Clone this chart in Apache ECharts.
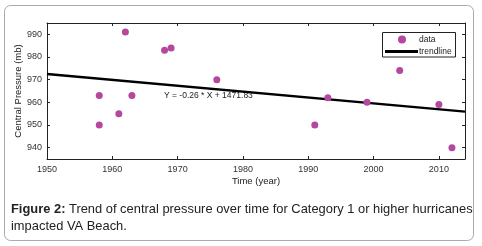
<!DOCTYPE html>
<html>
<head>
<meta charset="utf-8">
<script src="https://cdn.jsdelivr.net/npm/echarts@6/dist/echarts.min.js"></script>
<style>
  html, body { margin: 0; padding: 0; background: #fff; }
  #chart { width: 482px; height: 246px; }
</style>
</head>
<body>
<div id="chart"></div>
<script>
// hurricane years and their central pressure (mb)
const years = [1958, 1958, 1961, 1962, 1963, 1968, 1969, 1976, 1991, 1993, 1999, 2004, 2010, 2012];
const pressures = [963, 950, 955, 991, 963, 983, 984, 970, 950, 962, 960, 974, 959, 940];

// trendline end points as drawn
const trendYears = [1950, 2014];
const trendValues = [972.5, 955.9];

const equationText = 'Y = -0.26 * X + 1471.83';
const captionBold = 'Figure 2:';
const captionLine1 = ' Trend of central pressure over time for Category 1 or higher hurricanes';
const captionLine2 = 'impacted VA Beach.';

const chart = echarts.init(document.getElementById('chart'));

const font = '"Liberation Sans", Arial, sans-serif';
const axisLine = { show: true, lineStyle: { color: '#222', width: 1 } };
const axisTick = { show: true, inside: true, length: 3, lineStyle: { color: '#222' } };
const labelStyle = { color: '#333', fontSize: 9, fontFamily: font };

const option = {
  animation: false,
  backgroundColor: '#fff',
  grid: { left: 47, top: 23, right: 17, bottom: 87 },
  xAxis: [
    {
      type: 'value', min: 1950, max: 2014, interval: 10,
      name: 'Time (year)', nameLocation: 'middle', nameGap: 17, nameMoveOverlap: false,
      nameTextStyle: { color: '#222', fontSize: 9.5, fontFamily: font },
      axisLine, axisTick, splitLine: { show: false },
      axisLabel: { ...labelStyle, margin: 6, showMaxLabel: false, formatter: v => String(v) }
    },
    {
      type: 'value', position: 'top', min: 1950, max: 2014, interval: 10,
      axisLine, axisTick, splitLine: { show: false },
      axisLabel: { show: false }
    }
  ],
  yAxis: [
    {
      type: 'value', min: 935, max: 995,
      name: 'Central Pressure (mb)', nameLocation: 'middle', nameGap: 24, nameMoveOverlap: false,
      nameTextStyle: { color: '#222', fontSize: 9.5, fontFamily: font },
      axisLine, axisTick, splitLine: { show: false },
      axisLabel: { ...labelStyle, margin: 5, showMinLabel: false, showMaxLabel: false }
    },
    {
      type: 'value', position: 'right', min: 935, max: 995,
      axisLine, axisTick, splitLine: { show: false },
      axisLabel: { show: false }
    }
  ],
  legend: [
    {
      left: 398, top: 35, padding: 0,
      itemWidth: 8, itemHeight: 8,
      textStyle: { color: '#222', fontSize: 8.5, fontFamily: font, padding: [0, 0, 0, 8] },
      data: [{ name: 'data', icon: 'circle' }]
    },
    {
      left: 385, top: 47, padding: 0,
      itemWidth: 33, itemHeight: 3,
      textStyle: { color: '#222', fontSize: 8.5, fontFamily: font, padding: [0, 0, 0, -4] },
      data: [{ name: 'trendline', icon: 'rect' }]
    }
  ],
  series: [
    {
      name: 'trendline',
      type: 'line',
      data: trendYears.map((y, i) => [y, trendValues[i]]),
      symbol: 'none',
      lineStyle: { color: '#000', width: 2.5 },
      itemStyle: { color: '#000' },
      z: 2
    },
    {
      name: 'data',
      type: 'scatter',
      data: years.map((y, i) => [y, pressures[i]]),
      symbolSize: 7,
      itemStyle: { color: '#b5479f', opacity: 1 },
      z: 3
    }
  ],
  graphic: [
    {
      type: 'rect',
      shape: { x: 4.5, y: 5.5, width: 469, height: 235, r: 6 },
      style: { fill: 'none', stroke: '#aaa', lineWidth: 1 },
      silent: true
    },
    {
      // legend frame
      type: 'rect',
      shape: { x: 382.5, y: 32.5, width: 73, height: 24.5 },
      style: { fill: 'none', stroke: '#222', lineWidth: 1 },
      silent: true
    },
    {
      type: 'text',
      left: 164, top: 91,
      style: { text: equationText, fill: '#222', fontSize: 8.5, fontFamily: font }
    },
    {
      type: 'text',
      left: 11, top: 203,
      style: {
        text: '{b|' + captionBold + '}{n|' + captionLine1 + '}\n{n|' + captionLine2 + '}',
        fill: '#222',
        fontFamily: font,
        rich: {
          b: { fontSize: 12.9, fontWeight: 'bold', fontFamily: font, fill: '#222', lineHeight: 16.5 },
          n: { fontSize: 12.9, fontFamily: font, fill: '#222', lineHeight: 16.5 }
        }
      }
    }
  ]
};

chart.setOption(option);
</script>
</body>
</html>
